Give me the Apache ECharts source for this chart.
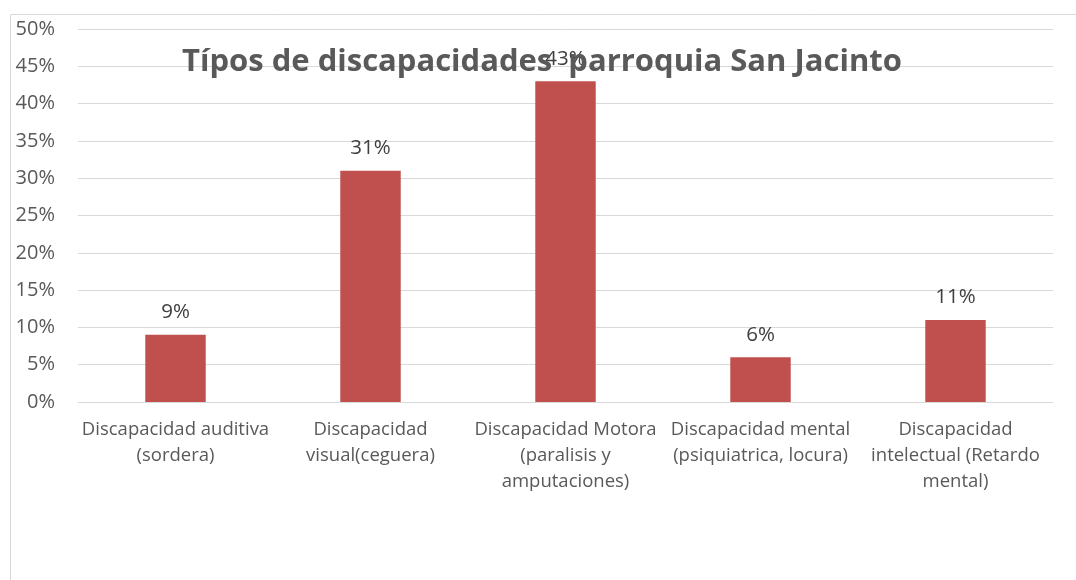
<!DOCTYPE html>
<html><head><meta charset="utf-8">
<script src="https://cdn.jsdelivr.net/npm/echarts@6/dist/echarts.min.js"></script>
<style>html,body{margin:0;padding:0;background:#fff}#c{width:1076px;height:580px}</style>
</head><body><div id="c"></div>
<script>
const categories = [
  "Discapacidad auditiva\n(sordera)",
  "Discapacidad\nvisual(ceguera)",
  "Discapacidad Motora\n(paralisis y\namputaciones)",
  "Discapacidad mental\n(psiquiatrica, locura)",
  "Discapacidad\nintelectual (Retardo\nmental)"
];
const values = [0.09, 0.31, 0.43, 0.06, 0.11];
const titleText = "Típos de discapacidades  parroquia San Jacinto";

const chart = echarts.init(document.getElementById('c'));
chart.setOption({
  animation: false,
  textStyle: { fontFamily: "Open Sans" },
  graphic: [{
    type: 'rect', shape: { x: 10.5, y: 14.5, width: 1100, height: 700 },
    style: { fill: 'none', stroke: '#d9d9d9', lineWidth: 1 }, z: -1
  }],
  grid: { left: 78, right: 23, top: 29, bottom: 178 },
  xAxis: {
    type: 'category', data: categories,
    axisLine: { lineStyle: { color: '#d9d9d9' } },
    axisTick: { show: false },
    axisLabel: { color: '#595959', fontSize: 18.5, lineHeight: 26, margin: 15, interval: 0, fontFamily: "Open Sans" }
  },
  yAxis: {
    type: 'value', min: 0, max: 0.5, interval: 0.05,
    axisLine: { show: false }, axisTick: { show: false },
    splitLine: { lineStyle: { color: '#d9d9d9' } },
    axisLabel: { color: '#595959', fontSize: 20, margin: 23,
      formatter: v => Math.round(v * 100) + '%' }
  },
  series: [{
    type: 'bar', data: values, barWidth: '31%',
    itemStyle: { color: '#C0504D' },
    label: { show: true, position: 'top', distance: 12, color: '#404040', fontSize: 20.5,
      formatter: p => Math.round(p.value * 100) + '%' }
  }],
  title: {
    text: titleText, left: 177, top: 42,
    textStyle: { color: '#595959', fontSize: 31, fontWeight: 'bold', fontFamily: "Open Sans" }
  }
});
</script></body></html>
